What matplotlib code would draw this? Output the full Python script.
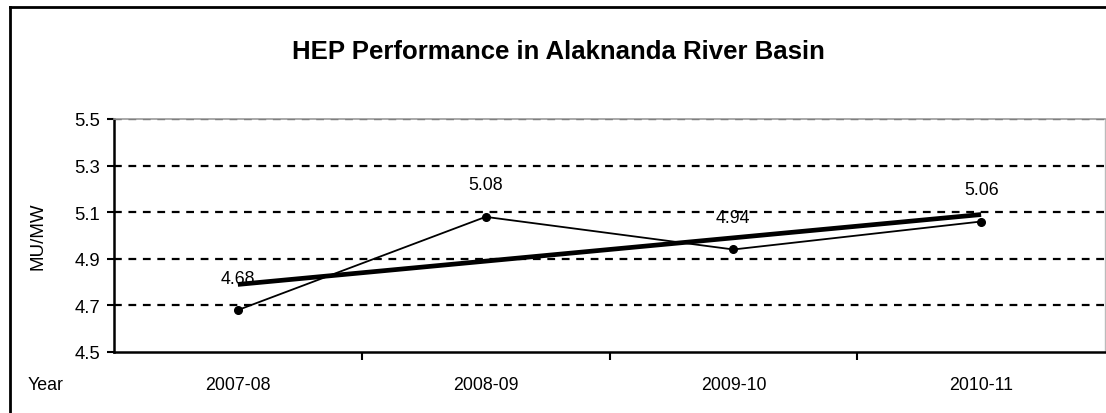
import numpy as np
import matplotlib
matplotlib.use("Agg")
import matplotlib.pyplot as plt

plt.rcParams['font.family'] = ['Liberation Sans', 'DejaVu Sans']

years = ["2007-08", "2008-09", "2009-10", "2010-11"]
values = [4.68, 5.08, 4.94, 5.06]
yticks = [4.5, 4.7, 4.9, 5.1, 5.3, 5.5]

fig = plt.figure(figsize=(11.06, 4.14), dpi=100)
ax = fig.add_axes([114/1106, 1-353/414, (1105-114)/1106, (353-120)/414])

x = np.arange(len(values))
# linear trendline
coef = np.polyfit(x, values, 1)
trend = np.polyval(coef, x)
ax.plot(x, trend, color='black', lw=3.4, solid_capstyle='butt', zorder=3)
ax.plot(x, values, color='black', lw=1.3, marker='o', ms=5.5, zorder=4)

fs = 12.8
for xi, v in zip(x, values):
    ax.annotate(f"{v:.2f}", (xi, v), xytext=(0, 23), textcoords='offset points',
                ha='center', va='center', fontsize=fs)

ax.set_xlim(-0.5, len(values) - 0.5)
ax.set_ylim(4.5, 5.5)
ax.set_yticks(yticks)
ax.set_yticklabels([f"{t:.1f}" for t in yticks], fontsize=13.3)
ax.set_xticks(x)
ax.set_xticklabels(years, fontsize=fs)
ax.tick_params(axis='x', length=0, pad=17)
ax.set_xticks(np.arange(0.5, len(values) - 0.5, 1), minor=True)
ax.tick_params(axis='x', which='minor', length=6, width=1.5, direction='out')
ax.tick_params(axis='y', length=5, width=1.5, direction='out', pad=5)

for t in yticks[1:]:
    ax.axhline(t, color='black', lw=1.6, ls=(0, (3.5, 3.0)), zorder=1)

ax.spines['left'].set_linewidth(1.8)
ax.spines['bottom'].set_linewidth(1.8)
ax.spines['top'].set_color('#999999')
ax.spines['right'].set_color('#bbbbbb')
ax.spines['top'].set_linewidth(1.2)
ax.spines['right'].set_linewidth(1.0)

ax.set_ylabel("MU/MW", fontsize=13.5, labelpad=20)
fig.text(558/1106, 1-52/414, "HEP Performance in Alaknanda River Basin",
         ha='center', va='center', fontsize=18.5, fontweight='bold')
fig.text(28/1106, 1-386/414, "Year", ha='left', va='center', fontsize=fs)

# outer chart border
fig.add_artist(plt.Line2D([10/1106, 10/1106], [0, 1-8/414], transform=fig.transFigure,
                          color='black', lw=2))
fig.add_artist(plt.Line2D([10/1106, 1], [1-8/414, 1-8/414], transform=fig.transFigure,
                          color='black', lw=2))

fig.savefig("out.png", dpi=100)
